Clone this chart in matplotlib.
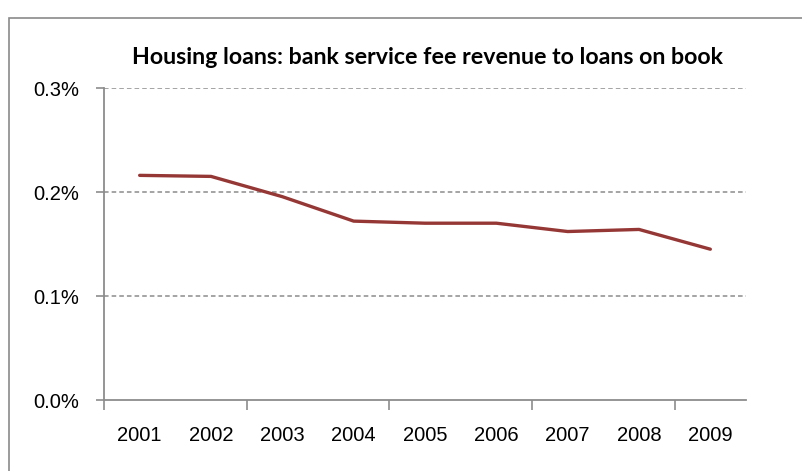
import matplotlib
matplotlib.use('Agg')
import matplotlib.pyplot as plt
import matplotlib.ticker as mticker
from matplotlib.patches import Rectangle

# Data (% of loans on book)
years = ['2001', '2002', '2003', '2004', '2005', '2006', '2007', '2008', '2009']
fee_ratio = [0.216, 0.215, 0.1955, 0.172, 0.170, 0.170, 0.162, 0.164, 0.145]

title = 'Housing loans: bank service fee revenue to loans on book'

plt.rcParams['font.family'] = ['Liberation Sans', 'DejaVu Sans']

grid_col = '#8c8c8c'
line_col = '#953735'

fig = plt.figure(figsize=(8.03, 4.71), dpi=100)
ax = fig.add_axes([104/803, 1 - 400/471, (746 - 104)/803, (400 - 88)/471])

# Outer chart border
fig.patches.append(Rectangle((9/803, -0.1), 1.2, 1.1 - 18/471, transform=fig.transFigure,
                             fill=False, edgecolor='#8a8a8a', linewidth=1.2))

x = list(range(len(years)))
ax.plot(x, fee_ratio, color=line_col, linewidth=2.4, solid_capstyle='round', zorder=3)

ax.set_xlim(-0.5, len(years) - 0.5)
ax.set_ylim(0, 0.3)

# y axis
ax.set_yticks([0, 0.1, 0.2, 0.3])
ax.yaxis.set_major_formatter(mticker.FuncFormatter(lambda v, p: '%.1f%%' % v))
ax.tick_params(axis='y', direction='out', length=6, width=1.2, color=grid_col,
               labelsize=14.5, pad=12)
for v in [0.1, 0.2, 0.3]:
    ax.axhline(v, color=grid_col, linewidth=1.1, linestyle=(0, (3, 2)), zorder=1)

# x axis: tick marks every second category, labels on every category
ax.set_xticks([-0.5, 1.5, 3.5, 5.5, 7.5])
ax.set_xticklabels([])
ax.set_xticks(x, minor=True)
ax.set_xticklabels(years, minor=True)
ax.tick_params(axis='x', which='major', direction='out', length=7, width=1.2, color=grid_col)
ax.tick_params(axis='x', which='minor', length=0, labelsize=14.5, pad=19)

for s in ['top', 'right']:
    ax.spines[s].set_visible(False)
for s in ['left', 'bottom']:
    ax.spines[s].set_color(grid_col)
    ax.spines[s].set_linewidth(1.3)

fig.text(428/803, 1 - 58/471, title, ha='center', va='center',
         fontsize=16.7, fontweight='bold', family=['Lato', 'DejaVu Sans'])

fig.savefig('out.png', dpi=100)
